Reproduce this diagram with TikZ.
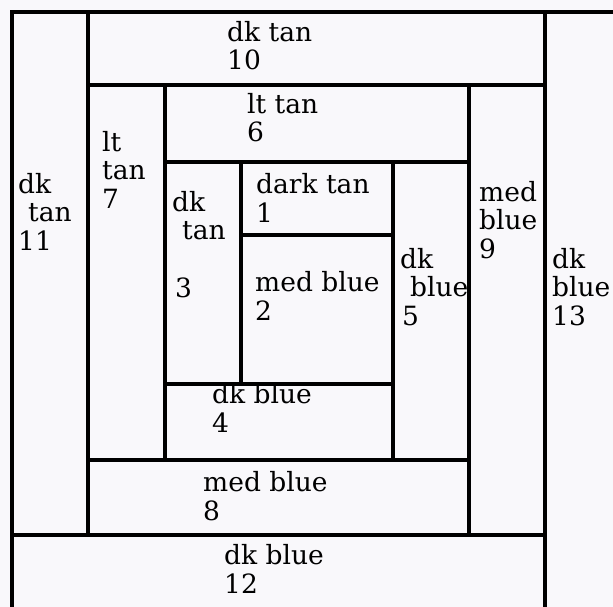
\documentclass[tikz,border=0pt]{standalone}
\usepackage{fontspec}
\setmainfont{DejaVu Serif}
\usetikzlibrary{positioning}

\begin{document}
\begin{tikzpicture}[
      x=1pt, y=-1pt,
      seam/.style={draw=black, line width=3.5pt},
      patch/.style={anchor=base west, align=left, inner sep=0pt, font=\fontsize{26.5}{28.5}\selectfont}
    ]
    \fill[fill={rgb,255:red,249;green,248;blue,251}] (0,0) rectangle (613,607);
    \useasboundingbox (0,0) rectangle (613,607);

    % outer frame and the seams of the block
    \draw[seam] (12,607) -- (12,12) -- (613,12);
    \draw[seam] (88,12) -- (88,535);
    \draw[seam] (545,12) -- (545,607);
    \draw[seam] (12,535) -- (545,535);
    \draw[seam] (88,85) -- (545,85);
    \draw[seam] (469,85) -- (469,535);
    \draw[seam] (88,460) -- (469,460);
    \draw[seam] (165,85) -- (165,460);
    \draw[seam] (165,162) -- (469,162);
    \draw[seam] (393,162) -- (393,460);
    \draw[seam] (165,384) -- (393,384);
    \draw[seam] (241,162) -- (241,384);
    \draw[seam] (241,235) -- (393,235);

    % patch labels (anchored on the baseline of the last line)
    \node[patch] (p1) at (256,222) {dark tan\\1};
    \node[patch] (p2) at (255,320) {med blue\\2};
    \node[patch] (p3) at (172,297) {dk\\\hspace*{10pt}tan\\[29pt]\hspace*{3pt}3};
    \node[patch] (p4) at (212,432) {dk blue\\4};
    \node[patch] (p5) at (400,325) {dk\\\hspace*{10pt}blue\\\hspace*{2pt}5};
    \node[patch] (p6) at (247,142) {lt tan\\6};
    \node[patch] (p7) at (102,208) {lt\\tan\\7};
    \node[patch] (p8) at (203,520) {med blue\\8};
    \node[patch] (p9) at (479,258) {med\\blue\\9};
    \node[patch] (p10) at (227,70) {dk tan\\10};
    \node[patch] (p11) at (18,250) {dk\\\hspace*{10pt}tan\\11};
    \node[patch] (p12) at (224,593) {dk blue\\12};
    \node[patch] (p13) at (552,325) {dk\\blue\\13};
  \end{tikzpicture}
\end{document}
